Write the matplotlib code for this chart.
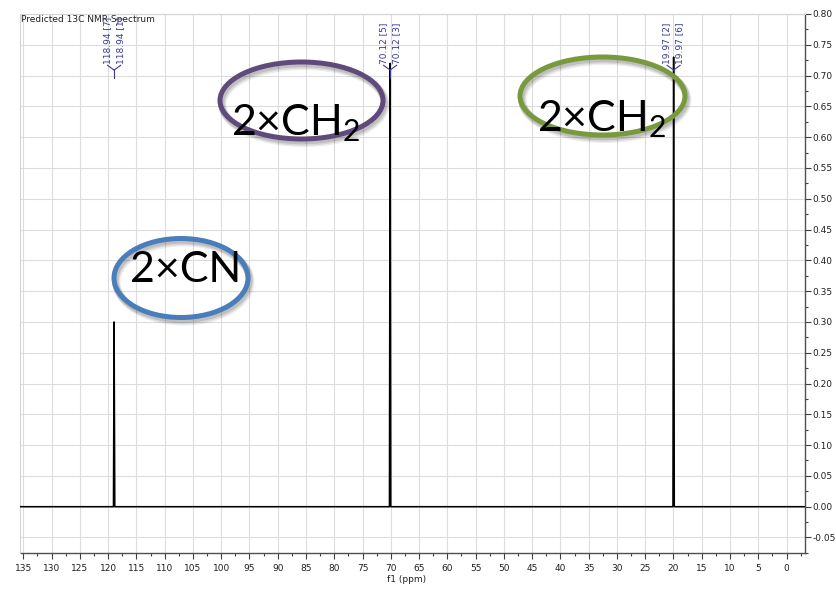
import matplotlib
matplotlib.use("Agg")
import matplotlib.pyplot as plt
from matplotlib.patches import Ellipse
from matplotlib.ticker import MultipleLocator, FormatStrFormatter

# --- data -------------------------------------------------------------
shifts = [118.94, 70.12, 19.97]          # ppm
heights = [0.30, 0.72, 0.73]             # intensity
peak_labels = [["118.94 [7]", "118.94 [1]"],
               ["70.12 [5]", "70.12 [3]"],
               ["19.97 [2]", "19.97 [6]"]]
group_names = ["2×CN", "2×CH$_2$", "2×CH$_2$"]
group_colors = ["#4a7ebb", "#5f4b7b", "#789a3c"]
x_ticks = list(range(135, -1, -5))
y_ticks = [round(-0.05 + 0.05 * i, 2) for i in range(18)]
title = "Predicted 13C NMR Spectrum"
xlabel = "f1 (ppm)"

# --- figure -----------------------------------------------------------
W, H = 837, 592
plt.rcParams["axes.unicode_minus"] = False
plt.rcParams["mathtext.fontset"] = "custom"
plt.rcParams["mathtext.rm"] = "Lato"
plt.rcParams["mathtext.it"] = "Lato"
plt.rcParams["font.family"] = ["DejaVu Sans"]

fig = plt.figure(figsize=(W / 100, H / 100), dpi=100)
fig.patch.set_facecolor("white")
ax = fig.add_axes([20.5 / W, 1 - 553 / H, (805 - 20.5) / W, (553 - 13.5) / H])

# stick spectrum on a flat baseline
xs, ys = [140.0], [0.0]
for s, h in sorted(zip(shifts, heights), reverse=True):
    xs += [s + 0.12, s, s - 0.12]
    ys += [0.0, h, 0.0]
xs.append(-5.0)
ys.append(0.0)
ax.plot(xs, ys, color="black", lw=1.1, zorder=3)

ax.set_xlim(135.5, -3.27)
ax.set_ylim(-0.0752, 0.8008)

ax.set_xticks(x_ticks)
ax.xaxis.set_minor_locator(MultipleLocator(2.5))
ax.xaxis.set_major_formatter(FormatStrFormatter("%d"))
ax.yaxis.tick_right()
ax.set_yticks(y_ticks)
ax.yaxis.set_minor_locator(MultipleLocator(0.025))
ax.yaxis.set_major_formatter(FormatStrFormatter("%.2f"))

tick_col = "#404040"
ax.tick_params(axis="x", which="major", direction="out", length=4, width=0.8,
               color=tick_col, labelsize=6.5, labelcolor="#202020", pad=4)
ax.tick_params(axis="x", which="minor", direction="out", length=2.5, width=0.8,
               color=tick_col)
ax.tick_params(axis="y", which="major", direction="out", length=4, width=0.8,
               color=tick_col, labelsize=6.5, labelcolor="#202020", pad=1.5,
               left=False, right=True)
ax.tick_params(axis="y", which="minor", direction="out", length=2.5, width=0.8,
               color=tick_col, left=False, right=True)

for side in ("left", "top"):
    ax.spines[side].set_color("#d4d4d4")
    ax.spines[side].set_linewidth(0.8)
for side in ("right", "bottom"):
    ax.spines[side].set_color("#505050")
    ax.spines[side].set_linewidth(1.0)

ax.grid(True, which="major", color="#dcdcdc", lw=0.8)
ax.set_axisbelow(True)

ax.set_xlabel(xlabel, fontsize=6.5, labelpad=0, color="#202020", va="top")
ax.xaxis.set_label_coords(0.4927, -0.040)

ax.text(0.001, 0.998, title, transform=ax.transAxes, ha="left", va="top",
        fontsize=6.5, color="#202020")

# multiplet labels with connectors
lab_col = "#3a3a9a"
y_text = 0.7186
y_join = 0.709
y_stub = 0.696
dx = 1.15
for s, labs in zip(shifts, peak_labels):
    for k, lab in enumerate(labs):
        xl = s + dx if k == 0 else s - dx
        ax.text(xl, y_text, lab, rotation=90, ha="center", va="bottom",
                fontsize=6.5, color=lab_col, zorder=4)
        ax.plot([xl, s], [y_text - 0.002, y_join], color=lab_col, lw=0.8, zorder=4)
    ax.plot([s, s], [y_join, y_stub], color=lab_col, lw=0.8, zorder=4)

# group annotations
ell = [((181, 278), 134, 79), ((301.5, 100.5), 163, 77), ((602.5, 96), 165, 78)]
txt = [(185.5, 282), (296, 135), (601.5, 131)]
for (c, w, h), (tx, ty), name, col in zip(ell, txt, group_names, group_colors):
    cx, cy = c
    for off, a in ((4, 0.07), (3, 0.09), (2, 0.11)):
        fig.add_artist(Ellipse(((cx + off * 0.6) / W, 1 - (cy + off) / H), w / W, h / H,
                               transform=fig.transFigure, fill=False,
                               ec="black", alpha=a, lw=3.4 + off * 0.6))
    fig.add_artist(Ellipse((cx / W, 1 - cy / H), w / W, h / H,
                           transform=fig.transFigure, fill=False, ec=col, lw=3.6))
    fig.text(tx / W, 1 - ty / H, name, ha="center", va="baseline",
             fontsize=31, family="Lato", color="black")

fig.savefig("out.png", dpi=100)
